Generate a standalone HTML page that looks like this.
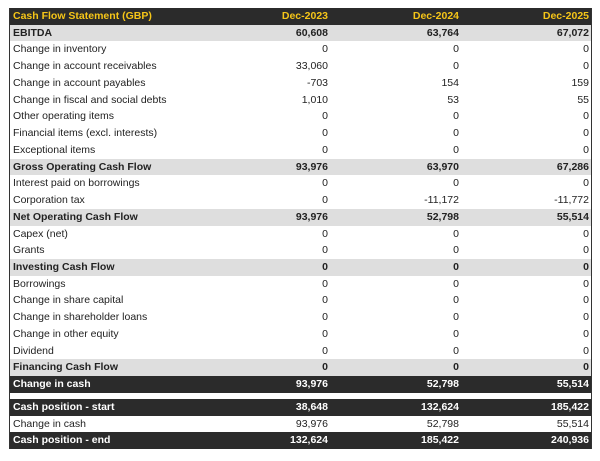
<!DOCTYPE html>
<html><head><style>
body{margin:0;background:#fff;width:600px;height:461px;overflow:hidden;font-family:"Liberation Sans",sans-serif;}
.t{position:absolute;left:9px;top:8px;width:581px;border-left:1px solid #333;border-right:1px solid #333;}
.r{height:16.74px;line-height:16.74px;font-size:10.5px;color:#222;position:relative;}
.r span{position:absolute;top:0;}
.r .l{left:3px}
.r .a{right:263px}.r .b{right:132px}.r .c{right:2px}
.h{background:#2b2b2b;color:#f5c518;font-weight:bold;}
.g{background:#dedede;font-weight:bold;}
.d{background:#2b2b2b;color:#fff;font-weight:bold;}
.gap{height:6px;background:#fff}
</style></head><body>
<div class="t">
<div class="r h"><span class="l">Cash Flow Statement (GBP)</span><span class="a">Dec-2023</span><span class="b">Dec-2024</span><span class="c">Dec-2025</span></div>
<div class="r g"><span class="l">EBITDA</span><span class="a">60,608</span><span class="b">63,764</span><span class="c">67,072</span></div>
<div class="r"><span class="l">Change in inventory</span><span class="a">0</span><span class="b">0</span><span class="c">0</span></div>
<div class="r"><span class="l">Change in account receivables</span><span class="a">33,060</span><span class="b">0</span><span class="c">0</span></div>
<div class="r"><span class="l">Change in account payables</span><span class="a">-703</span><span class="b">154</span><span class="c">159</span></div>
<div class="r"><span class="l">Change in fiscal and social debts</span><span class="a">1,010</span><span class="b">53</span><span class="c">55</span></div>
<div class="r"><span class="l">Other operating items</span><span class="a">0</span><span class="b">0</span><span class="c">0</span></div>
<div class="r"><span class="l">Financial items (excl. interests)</span><span class="a">0</span><span class="b">0</span><span class="c">0</span></div>
<div class="r"><span class="l">Exceptional items</span><span class="a">0</span><span class="b">0</span><span class="c">0</span></div>
<div class="r g"><span class="l">Gross Operating Cash Flow</span><span class="a">93,976</span><span class="b">63,970</span><span class="c">67,286</span></div>
<div class="r"><span class="l">Interest paid on borrowings</span><span class="a">0</span><span class="b">0</span><span class="c">0</span></div>
<div class="r"><span class="l">Corporation tax</span><span class="a">0</span><span class="b">-11,172</span><span class="c">-11,772</span></div>
<div class="r g"><span class="l">Net Operating Cash Flow</span><span class="a">93,976</span><span class="b">52,798</span><span class="c">55,514</span></div>
<div class="r"><span class="l">Capex (net)</span><span class="a">0</span><span class="b">0</span><span class="c">0</span></div>
<div class="r"><span class="l">Grants</span><span class="a">0</span><span class="b">0</span><span class="c">0</span></div>
<div class="r g"><span class="l">Investing Cash Flow</span><span class="a">0</span><span class="b">0</span><span class="c">0</span></div>
<div class="r"><span class="l">Borrowings</span><span class="a">0</span><span class="b">0</span><span class="c">0</span></div>
<div class="r"><span class="l">Change in share capital</span><span class="a">0</span><span class="b">0</span><span class="c">0</span></div>
<div class="r"><span class="l">Change in shareholder loans</span><span class="a">0</span><span class="b">0</span><span class="c">0</span></div>
<div class="r"><span class="l">Change in other equity</span><span class="a">0</span><span class="b">0</span><span class="c">0</span></div>
<div class="r"><span class="l">Dividend</span><span class="a">0</span><span class="b">0</span><span class="c">0</span></div>
<div class="r g"><span class="l">Financing Cash Flow</span><span class="a">0</span><span class="b">0</span><span class="c">0</span></div>
<div class="r d"><span class="l">Change in cash</span><span class="a">93,976</span><span class="b">52,798</span><span class="c">55,514</span></div>
<div class="gap"></div>
<div class="r d"><span class="l">Cash position - start</span><span class="a">38,648</span><span class="b">132,624</span><span class="c">185,422</span></div>
<div class="r"><span class="l">Change in cash</span><span class="a">93,976</span><span class="b">52,798</span><span class="c">55,514</span></div>
<div class="r d"><span class="l">Cash position - end</span><span class="a">132,624</span><span class="b">185,422</span><span class="c">240,936</span></div>
</div>
</body></html>
